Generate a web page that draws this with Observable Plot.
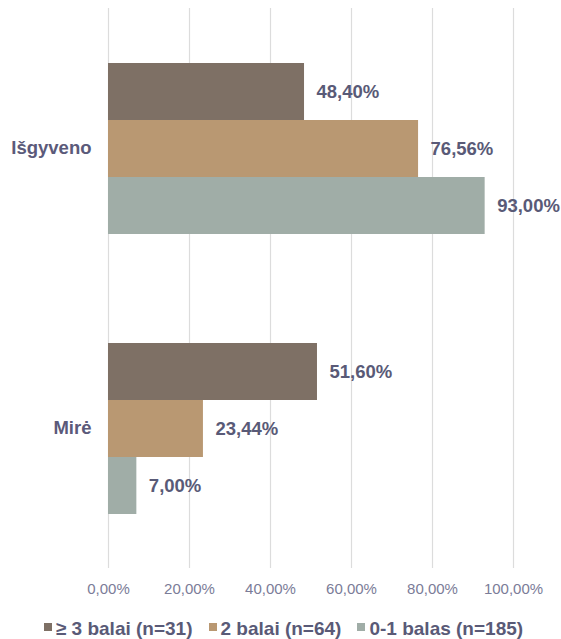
<!DOCTYPE html>
<html>
<head>
<meta charset="utf-8">
<script src="https://cdn.jsdelivr.net/npm/d3@7"></script>
<script src="https://cdn.jsdelivr.net/npm/@observablehq/plot@0.6"></script>
<style>
  html, body { margin: 0; padding: 0; background: #fff; }
  body { width: 561px; height: 639px; overflow: hidden; font-family: "Liberation Sans", Arial, sans-serif; }
  #legend { display: flex; justify-content: center; align-items: center; gap: 16px; height: 33px; margin-top: 6px;
    font-family: "Liberation Sans", Arial, sans-serif; font-weight: bold; font-size: 19px; color: #595a77; padding-left: 6px; }
  #legend .sw { display: inline-block; width: 8px; height: 8px; margin-right: 4px; vertical-align: middle; position: relative; top: -2px; }
</style>
</head>
<body>
<div id="chart"></div>
<div id="legend"></div>
<script>
const categories = ["Išgyveno", "Mirė"];
const series = ["≥ 3 balai (n=31)", "2 balai (n=64)", "0-1 balas (n=185)"];
const survivedValues = [48.40, 76.56, 93.00];
const diedValues = [51.60, 23.44, 7.00];
const xTicks = [0, 20, 40, 60, 80, 100];

const colors = ["#7e7065", "#b99872", "#a0ada7"];
const fmt = v => v.toFixed(2).replace(".", ",") + "%";

const rows = [];
series.forEach((s, i) => {
  rows.push({category: categories[0], series: s, value: survivedValues[i]});
  rows.push({category: categories[1], series: s, value: diedValues[i]});
});

const chart = Plot.plot({
  width: 561,
  height: 606,
  marginTop: 7,
  marginBottom: 38,
  marginLeft: 108,
  marginRight: 48,
  style: {fontFamily: "'Liberation Sans', Arial, sans-serif", background: "#fff"},
  x: {domain: [0, 100]},
  y: {domain: series, paddingInner: 0, paddingOuter: 0.92, axis: null},
  fy: {domain: categories, padding: 0},
  color: {domain: series, range: colors},
  marks: [
    Plot.gridX(xTicks, {stroke: "#dcdcdc", strokeOpacity: 1, strokeWidth: 1.2}),
    Plot.barX(rows, {x: "value", y: "series", fy: "category", fill: "series"}),
    Plot.text(rows, {x: "value", y: "series", fy: "category", text: d => fmt(d.value),
      textAnchor: "start", dx: 12, fontSize: 18.5, fontWeight: "bold", fill: "#595a77"}),
    Plot.axisX({anchor: "bottom", ticks: xTicks, tickFormat: fmt, tickSize: 0, tickPadding: 15,
      fontSize: 15, fill: "#7b7c98", label: null}),
    Plot.axisFy({anchor: "left", tickSize: 0, tickPadding: 17, fontSize: 18.5, fontWeight: "bold",
      fill: "#5b5a7a", label: null})
  ]
});
document.getElementById("chart").appendChild(chart);

const legend = d3.select("#legend");
series.forEach((s, i) => {
  const item = legend.append("span");
  item.append("span").attr("class", "sw").style("background", colors[i]);
  item.append("span").text(s);
});
</script>
</body>
</html>
